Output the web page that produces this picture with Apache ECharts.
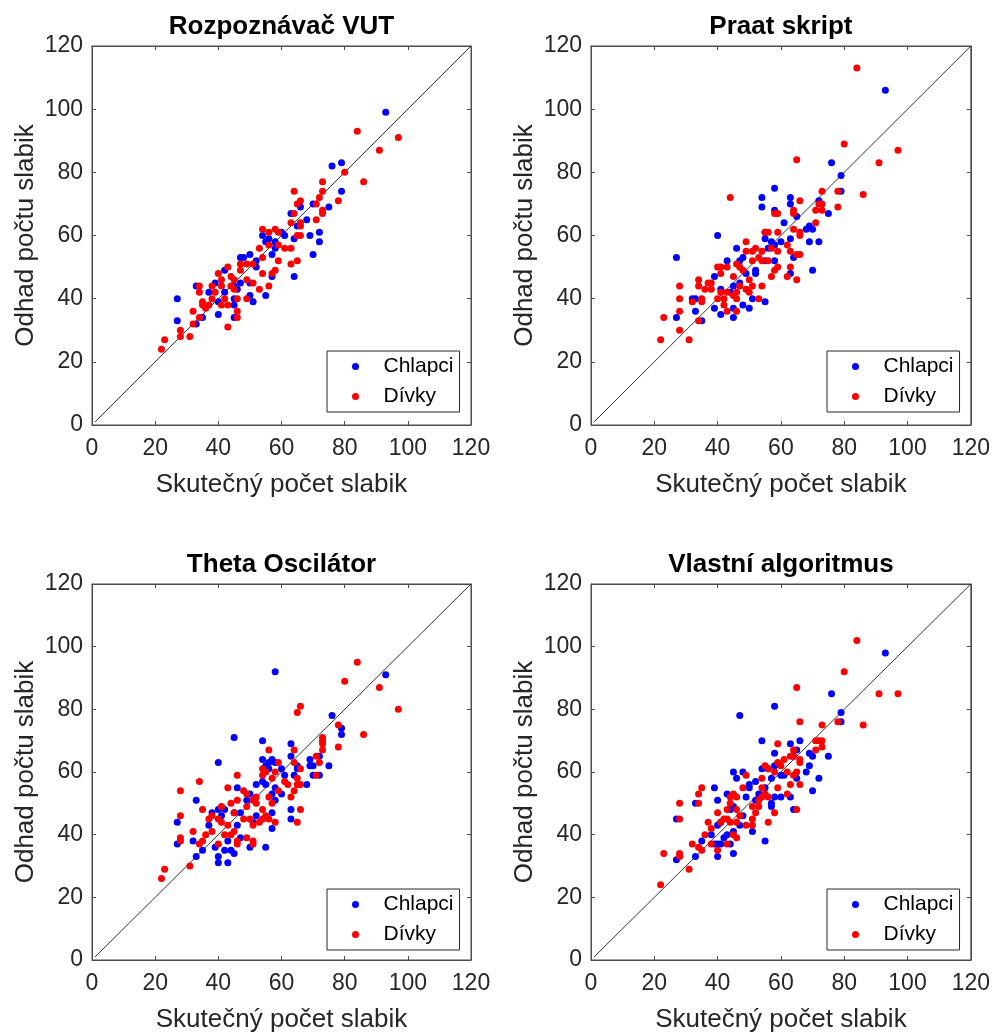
<!DOCTYPE html>
<html>
<head>
<meta charset="utf-8">
<script src="https://cdn.jsdelivr.net/npm/echarts@6/dist/echarts.min.js"></script>
<style>
html,body{margin:0;padding:0;background:#fff;}
#chart{width:993px;height:1034px;}
</style>
</head>
<body>
<div id="chart"></div>
<script>
const titles = ['Rozpoznávač VUT', 'Praat skript', 'Theta Oscilátor', 'Vlastní algoritmus'];
const xName = 'Skutečný počet slabik';
const yName = 'Odhad počtu slabik';
const seriesNames = ['Chlapci', 'Dívky'];
const axisMin = 0, axisMax = 120, axisStep = 20;
const diagonal = [[1, 1], [120, 120]];

const vutBoys = [[93,99],[76,82],[79,83],[79,74],[75,69],[70,70],[68,65],[69,60],[72,61],[72,58],[70,54],[66,69],[63,67],[65,63],[64,59],[64,47],[55,41],[51,39],[50,41],[27,40],[27,33],[33,44],[33,32],[35,34],[39,45],[40,35],[45,34],[45,38],[57,47],[57,54],[58,56],[58,58],[55,58],[54,60],[56,59],[60,61],[61,60],[47,53],[48,53],[50,54],[52,50],[52,52],[42,49],[42,42],[37,42],[40,39],[45,44],[47,45],[50,45],[45,40],[46,43]];
const vutGirls = [[84,93],[97,91],[91,87],[80,80],[86,77],[73,77],[73,74],[72,72],[71,70],[78,71],[73,68],[73,67],[71,65],[64,74],[65,70],[66,71],[64,67],[63,64],[66,64],[66,63],[65,60],[66,60],[63,56],[65,52],[63,51],[54,62],[56,61],[58,62],[59,61],[59,57],[61,56],[56,57],[53,56],[54,53],[59,52],[58,49],[57,48],[54,48],[56,44],[53,43],[49,51],[51,51],[47,51],[47,49],[49,46],[51,45],[49,40],[46,40],[46,36],[46,34],[43,31],[43,50],[40,48],[41,46],[41,44],[44,47],[45,43],[42,40],[43,38],[41,38],[39,42],[38,44],[34,44],[34,42],[35,39],[35,38],[36,37],[37,38],[34,34],[32,36],[32,32],[31,28],[28,30],[28,28],[23,27],[22,24],[38,40],[45,46],[44,44]];

const praatBoys = [[93,106],[76,83],[79,79],[79,74],[75,67],[70,62],[68,62],[69,63],[69,58],[72,58],[70,49],[72,71],[58,75],[54,72],[54,69],[58,68],[63,72],[63,70],[61,64],[65,66],[63,59],[64,53],[63,48],[40,60],[27,53],[27,34],[33,36],[32,40],[33,40],[35,33],[39,47],[39,37],[41,35],[45,34],[45,37],[48,38],[50,37],[55,39],[51,40],[46,56],[43,52],[47,52],[48,53],[52,49],[52,48],[55,59],[56,56],[57,58],[58,57],[60,58],[55,52],[58,52],[55,61],[41,43],[44,42],[45,44],[47,45],[49,48]];
const praatGirls = [[84,113],[80,89],[97,87],[91,83],[86,73],[65,84],[44,72],[73,74],[78,74],[78,69],[72,70],[73,70],[73,68],[71,68],[71,64],[66,71],[64,68],[64,67],[64,62],[66,61],[66,60],[66,54],[65,54],[63,55],[62,57],[65,46],[62,47],[63,50],[58,67],[59,67],[56,61],[55,61],[59,61],[59,55],[57,56],[54,55],[54,52],[56,52],[59,50],[58,49],[57,47],[54,44],[53,40],[49,58],[49,55],[51,55],[52,56],[53,53],[46,51],[47,50],[48,49],[51,52],[50,46],[51,44],[49,43],[50,42],[47,44],[46,40],[46,36],[43,36],[42,38],[40,50],[41,50],[41,48],[43,50],[45,47],[46,42],[43,42],[45,41],[40,40],[42,40],[41,42],[38,45],[37,45],[38,43],[34,46],[34,44],[35,40],[35,39],[36,43],[32,39],[34,33],[28,44],[28,40],[28,36],[28,30],[31,27],[23,34],[22,27]];

const thetaBoys = [[93,91],[58,92],[76,78],[79,74],[79,72],[75,62],[70,62],[69,64],[69,62],[70,59],[72,59],[72,65],[68,56],[63,69],[63,65],[65,62],[64,59],[65,61],[63,48],[63,45],[54,70],[54,64],[56,63],[57,64],[58,63],[55,62],[56,61],[60,61],[61,59],[54,57],[55,56],[58,55],[52,56],[57,53],[58,51],[57,47],[57,42],[60,53],[45,71],[40,63],[46,55],[33,51],[27,44],[27,37],[32,38],[33,33],[35,35],[37,43],[38,47],[39,36],[40,33],[40,31],[43,31],[42,35],[44,35],[45,34],[43,38],[50,36],[55,36],[51,44],[52,46],[49,51],[47,47],[45,47],[42,48],[41,46],[40,48],[46,43],[47,39],[50,53]];
const thetaGirls = [[84,95],[80,89],[91,87],[97,80],[86,72],[66,81],[65,79],[78,75],[78,68],[73,71],[73,70],[73,69],[73,67],[71,65],[72,63],[71,59],[64,67],[64,63],[66,61],[65,58],[65,56],[66,56],[64,54],[63,52],[66,48],[65,44],[59,63],[59,54],[61,57],[62,56],[56,67],[54,61],[55,60],[54,59],[57,58],[58,60],[56,52],[57,50],[54,48],[54,45],[56,45],[58,44],[55,46],[53,44],[52,52],[52,50],[49,49],[48,54],[49,53],[51,51],[46,59],[43,55],[46,51],[44,50],[41,49],[45,47],[48,45],[50,45],[51,43],[49,39],[51,38],[51,37],[46,37],[46,38],[44,40],[42,40],[43,43],[41,44],[40,45],[40,37],[38,46],[37,45],[35,48],[34,57],[28,54],[28,46],[28,39],[28,38],[32,41],[35,38],[34,37],[36,40],[38,41],[31,30],[23,29],[22,26],[45,41]];

const ownBoys = [[93,98],[76,85],[79,79],[79,76],[75,65],[70,65],[69,66],[69,62],[68,60],[72,58],[70,54],[66,70],[63,69],[64,65],[65,67],[65,58],[64,48],[63,52],[58,81],[47,78],[54,70],[58,66],[54,61],[56,61],[58,62],[57,58],[60,59],[61,59],[55,55],[57,50],[57,49],[60,52],[58,52],[55,38],[51,41],[52,57],[53,53],[52,51],[50,56],[50,55],[49,52],[45,60],[46,58],[48,60],[40,51],[39,55],[33,50],[27,45],[27,32],[33,33],[35,38],[38,40],[39,37],[40,33],[40,37],[41,37],[45,34],[44,37],[43,40],[42,39],[41,44],[40,43],[45,41],[47,43],[44,48],[45,49],[48,46],[43,53]];
const ownGirls = [[84,102],[80,92],[91,85],[97,85],[86,75],[65,87],[66,76],[78,76],[73,75],[71,70],[72,70],[73,70],[73,68],[71,67],[64,67],[63,65],[64,65],[66,64],[66,63],[61,64],[59,63],[60,62],[59,69],[62,60],[65,60],[64,59],[63,56],[66,56],[62,53],[65,48],[54,58],[55,62],[56,61],[58,60],[59,55],[54,55],[55,53],[56,52],[54,52],[53,51],[58,47],[56,44],[53,49],[51,49],[52,47],[51,45],[51,43],[49,43],[48,55],[49,59],[46,52],[45,53],[44,52],[43,48],[44,50],[46,48],[47,46],[46,44],[44,44],[42,45],[41,44],[40,47],[43,45],[40,35],[43,37],[46,39],[38,42],[37,44],[36,40],[38,37],[34,36],[32,37],[34,50],[34,53],[35,55],[28,50],[28,45],[28,34],[28,33],[23,34],[31,29],[22,24],[35,35],[45,40]];

const plotBoys = [vutBoys, praatBoys, thetaBoys, ownBoys];
const plotGirls = [vutGirls, praatGirls, thetaGirls, ownGirls];

const FONT = '"Liberation Sans", Arial, Helvetica, sans-serif';
const TXT = '#262626';
const AX = '#4d4d4d';

const gridBoxes = [
  {left: 92, top: 46, width: 379, height: 379},
  {left: 591, top: 46, width: 380, height: 379},
  {left: 92, top: 584, width: 379, height: 379},
  {left: 591, top: 584, width: 380, height: 379}
];

const grid = [], xAxis = [], yAxis = [], series = [], legend = [];

gridBoxes.forEach((g, i) => {
  grid.push(Object.assign({show: true, borderColor: AX, borderWidth: 1, backgroundColor: '#fff'}, g));
  const common = {
    type: 'value', gridIndex: i, min: axisMin, max: axisMax, interval: axisStep,
    splitLine: {show: false},
    axisLine: {show: true, onZero: false, lineStyle: {color: AX, width: 1}},
    axisTick: {show: true, inside: true, length: 4, lineStyle: {color: AX, width: 1}}
  };
  xAxis.push(Object.assign({}, common, {
    position: 'bottom',
    name: xName, nameLocation: 'middle', nameGap: 47,
    nameTextStyle: {fontFamily: FONT, fontSize: 26, color: TXT},
    axisLabel: {fontFamily: FONT, fontSize: 23, color: TXT, margin: 12}
  }));
  xAxis.push(Object.assign({}, common, {
    position: 'top',
    name: titles[i], nameLocation: 'middle', nameGap: 6,
    nameTextStyle: {fontFamily: FONT, fontSize: 26, fontWeight: 'bold', color: '#000'},
    axisLabel: {show: false}
  }));
  yAxis.push(Object.assign({}, common, {
    position: 'left',
    name: yName, nameLocation: 'middle', nameGap: 53,
    nameTextStyle: {fontFamily: FONT, fontSize: 26, color: TXT},
    axisLabel: {fontFamily: FONT, fontSize: 23, color: TXT, margin: 9}
  }));
  yAxis.push(Object.assign({}, common, {
    position: 'right',
    axisLabel: {show: false}
  }));

  series.push({
    name: 'diag' + i, type: 'line', xAxisIndex: 2 * i, yAxisIndex: 2 * i,
    data: diagonal, showSymbol: false, symbol: 'none', silent: true,
    lineStyle: {color: '#333', width: 1}, z: 1, animation: false
  });
  series.push({
    name: seriesNames[0], type: 'scatter', xAxisIndex: 2 * i, yAxisIndex: 2 * i,
    data: plotBoys[i], symbolSize: 7, itemStyle: {color: '#0000ff', opacity: 1},
    z: 2, animation: false
  });
  series.push({
    name: seriesNames[1], type: 'scatter', xAxisIndex: 2 * i, yAxisIndex: 2 * i,
    data: plotGirls[i], symbolSize: 7, itemStyle: {color: '#ff0000', opacity: 1},
    z: 3, animation: false
  });

  legend.push({
    data: seriesNames, orient: 'vertical',
    left: g.left + g.width - 144, top: g.top + g.height - 74,
    icon: 'circle', itemWidth: 46, itemHeight: 7, itemGap: 9,
    padding: [5, 6, 5, 25],
    backgroundColor: '#fff', borderColor: '#262626', borderWidth: 1,
    textStyle: {fontFamily: FONT, fontSize: 21, color: '#000'},
    selectedMode: false
  });
});

const chart = echarts.init(document.getElementById('chart'), null, {renderer: 'canvas'});
chart.setOption({
  backgroundColor: '#fff',
  animation: false,
  grid, xAxis, yAxis, series, legend
});
</script>
</body>
</html>
